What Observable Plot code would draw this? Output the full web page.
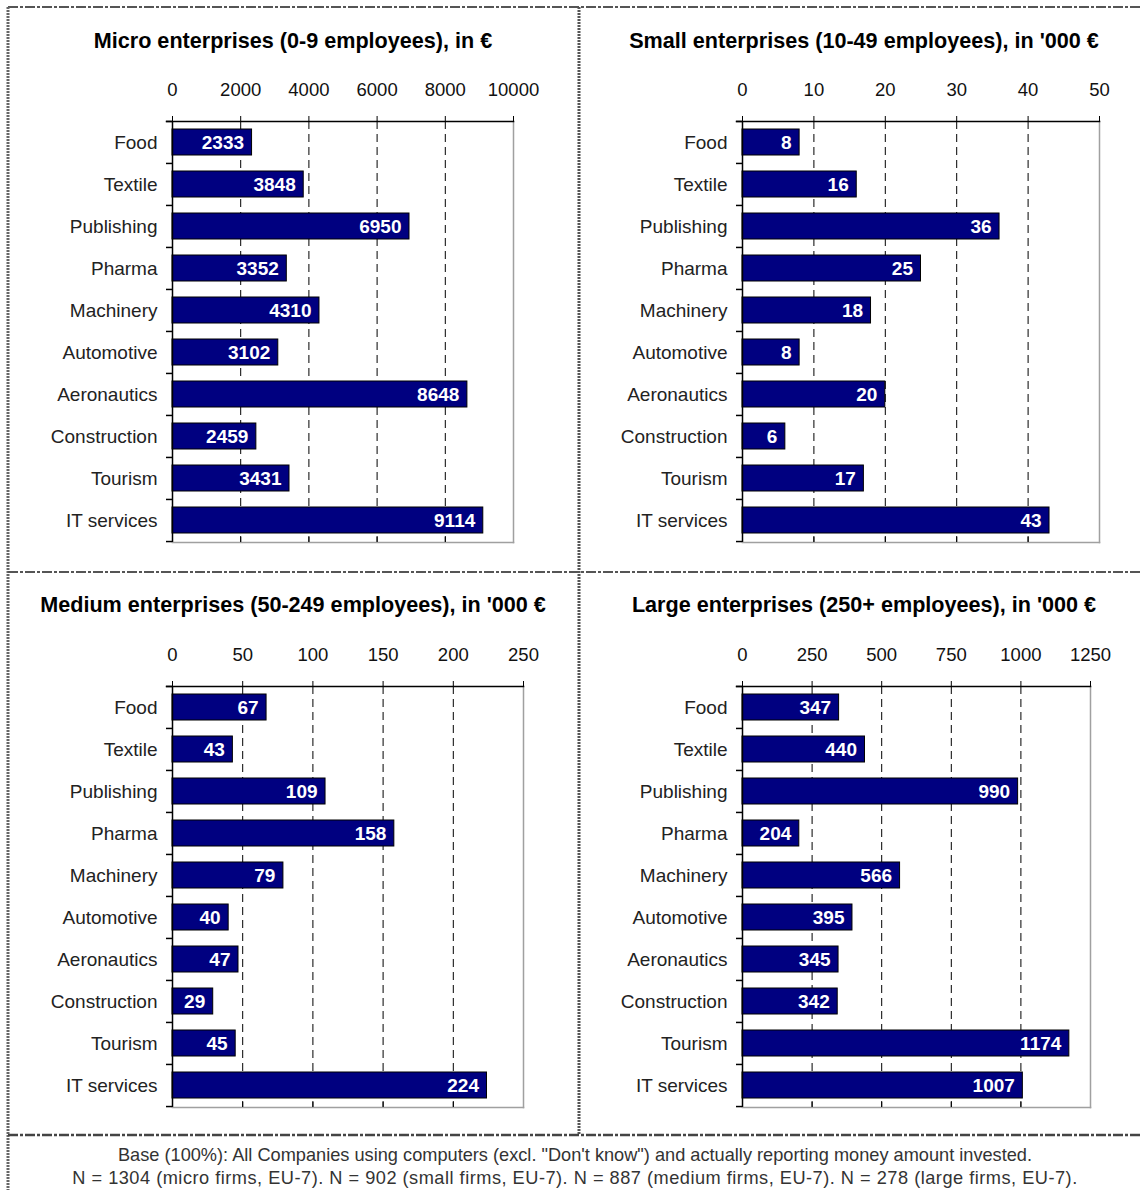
<!DOCTYPE html>
<html>
<head>
<meta charset="utf-8">
<script src="https://cdn.jsdelivr.net/npm/d3@7"></script>
<script src="https://cdn.jsdelivr.net/npm/@observablehq/plot@0.6"></script>
<style>
  body { margin: 0; background: #fff; }
  #page { position: relative; width: 1141px; height: 1190px; background: #fff; overflow: hidden; font-family: "Liberation Sans", Arial, sans-serif; }
  .panel { position: absolute; }
  .title { position: absolute; transform: translate(-50%, -50%); white-space: nowrap; font-weight: bold; font-size: 21.6px; color: #000; }
  .foot { position: absolute; left: 0; width: 1150px; text-align: center; font-size: 18.2px; color: #333; white-space: nowrap; }
  #borders { position: absolute; left: 0; top: 0; }
</style>
</head>
<body>
<div id="page"></div>
<script>
const categories = ["Food","Textile","Publishing","Pharma","Machinery","Automotive","Aeronautics","Construction","Tourism","IT services"];
const micro  = [2333,3848,6950,3352,4310,3102,8648,2459,3431,9114];
const small  = [8,16,36,25,18,8,20,6,17,43];
const medium = [67,43,109,158,79,40,47,29,45,224];
const large  = [347,440,990,204,566,395,345,342,1174,1007];
const microTicks  = [0,2000,4000,6000,8000,10000];
const smallTicks  = [0,10,20,30,40,50];
const mediumTicks = [0,50,100,150,200,250];
const largeTicks  = [0,250,500,750,1000,1250];
const titles = [
  "Micro enterprises (0-9 employees), in €",
  "Small enterprises (10-49 employees), in '000 €",
  "Medium enterprises (50-249 employees), in '000 €",
  "Large enterprises (250+ employees), in '000 €"
];
const footLines = [
  "Base (100%): All Companies using computers (excl. \"Don't know\") and actually reporting money amount invested.",
  "N = 1304 (micro firms, EU-7). N = 902 (small firms, EU-7). N = 887 (medium firms, EU-7). N = 278 (large firms, EU-7)."
];

const page = document.getElementById("page");
const FONT = "Liberation Sans, Arial, sans-serif";

const panels = [
  {values: micro,  ticks: microTicks,  left: 0,   top: 0,   mr: 57, title: titles[0], tx: 293, ty: 41},
  {values: small,  ticks: smallTicks,  left: 570, top: 0,   mr: 41, title: titles[1], tx: 864, ty: 41},
  {values: medium, ticks: mediumTicks, left: 0,   top: 565, mr: 47, title: titles[2], tx: 293, ty: 605},
  {values: large,  ticks: largeTicks,  left: 570, top: 565, mr: 50, title: titles[3], tx: 864, ty: 605}
];

const W = 570, H = 560, MT = 121, MB = 18, ML = 172;
const step = (H - MT - MB) / categories.length;

for (const p of panels) {
  const data = categories.map((c, i) => ({cat: c, value: p.values[i]}));
  const maxT = p.ticks[p.ticks.length - 1];
  const inner = p.ticks.slice(1, -1);
  const plotW = W - ML - p.mr;
  const tickLen = -6 * maxT / plotW; // 6px outward tick expressed in data units
  const chart = Plot.plot({
    width: W, height: H,
    marginLeft: ML, marginRight: p.mr, marginTop: MT, marginBottom: MB,
    style: {fontFamily: FONT, background: "transparent", overflow: "visible"},
    x: {domain: [0, maxT], axis: null},
    y: {type: "band", domain: categories, paddingInner: 0.38, paddingOuter: 0.19, axis: null},
    marks: [
      Plot.ruleX(inner, {stroke: "#000", strokeWidth: 1, strokeDasharray: "8,5"}),
      Plot.frame({anchor: "right", stroke: "#a0a0a0", strokeWidth: 1.5}),
      Plot.frame({anchor: "bottom", stroke: "#a0a0a0", strokeWidth: 1.5}),
      Plot.axisX(p.ticks, {anchor: "top", tickSize: 6, tickFormat: () => "", label: null, stroke: "#000"}),
      Plot.axisX(inner, {anchor: "bottom", tickSize: -6, tickFormat: () => "", label: null, stroke: "#000"}),
      Plot.text(p.ticks, {x: d => d, frameAnchor: "top", dy: -31, text: d => String(d), fontSize: 18.5, fill: "#111", lineAnchor: "middle"}),
      Plot.barX(data, {x: "value", y: "cat", fill: "#000080", stroke: "#000", strokeWidth: 1}),
      Plot.text(data, {x: "value", y: "cat", text: d => String(d.value), textAnchor: "end", dx: -8, fill: "#fff", fontWeight: "bold", fontSize: 19}),
      Plot.ruleX([0], {stroke: "#000", strokeWidth: 1.5}),
      Plot.frame({anchor: "top", stroke: "#000", strokeWidth: 1.5, insetLeft: -6}),
      Plot.ruleY(categories, {y: d => d, x1: tickLen, x2: 0, dy: -step / 2, stroke: "#000", strokeWidth: 1.5}),
      Plot.ruleY(categories.slice(-1), {y: d => d, x1: tickLen, x2: 0, dy: step / 2, stroke: "#000", strokeWidth: 1.5}),
      Plot.text(categories, {y: d => d, frameAnchor: "left", dx: -15, textAnchor: "end", text: d => d, fontSize: 19, fill: "#222"})
    ]
  });
  chart.classList.add("panel");
  chart.style.left = p.left + "px";
  chart.style.top = p.top + "px";
  page.appendChild(chart);
  const t = document.createElement("div");
  t.className = "title";
  t.textContent = p.title;
  t.style.left = p.tx + "px";
  t.style.top = p.ty + "px";
  page.appendChild(t);
}

footLines.forEach((line, i) => {
  const f = document.createElement("div");
  f.className = "foot";
  f.textContent = line;
  f.style.top = (1145 + i * 23) + "px";
  if (i === 1) f.style.letterSpacing = "0.5px";
  page.appendChild(f);
});

// decorative page borders
const svgNS = "http://www.w3.org/2000/svg";
const b = document.createElementNS(svgNS, "svg");
b.setAttribute("id", "borders");
b.setAttribute("width", 1141);
b.setAttribute("height", 1190);
const lines = [
  {x1: 8, y1: 7, x2: 1141, y2: 7, w: 2, dash: "10,2,3,2", c: "#555"},
  {x1: 8, y1: 7, x2: 8, y2: 1190, w: 3, dash: "2,1", c: "#666"},
  {x1: 579, y1: 7, x2: 579, y2: 1135, w: 3, dash: "2,1", c: "#555"},
  {x1: 8, y1: 572, x2: 1141, y2: 572, w: 2, dash: "10,2,3,2", c: "#555"},
  {x1: 8, y1: 1135, x2: 1141, y2: 1135, w: 2.5, dash: "10,2,3,2", c: "#444"}
];
for (const l of lines) {
  const e = document.createElementNS(svgNS, "line");
  e.setAttribute("x1", l.x1); e.setAttribute("y1", l.y1);
  e.setAttribute("x2", l.x2); e.setAttribute("y2", l.y2);
  e.setAttribute("stroke", l.c); e.setAttribute("stroke-width", l.w);
  e.setAttribute("stroke-dasharray", l.dash);
  b.appendChild(e);
}
page.appendChild(b);
</script>
</body>
</html>
